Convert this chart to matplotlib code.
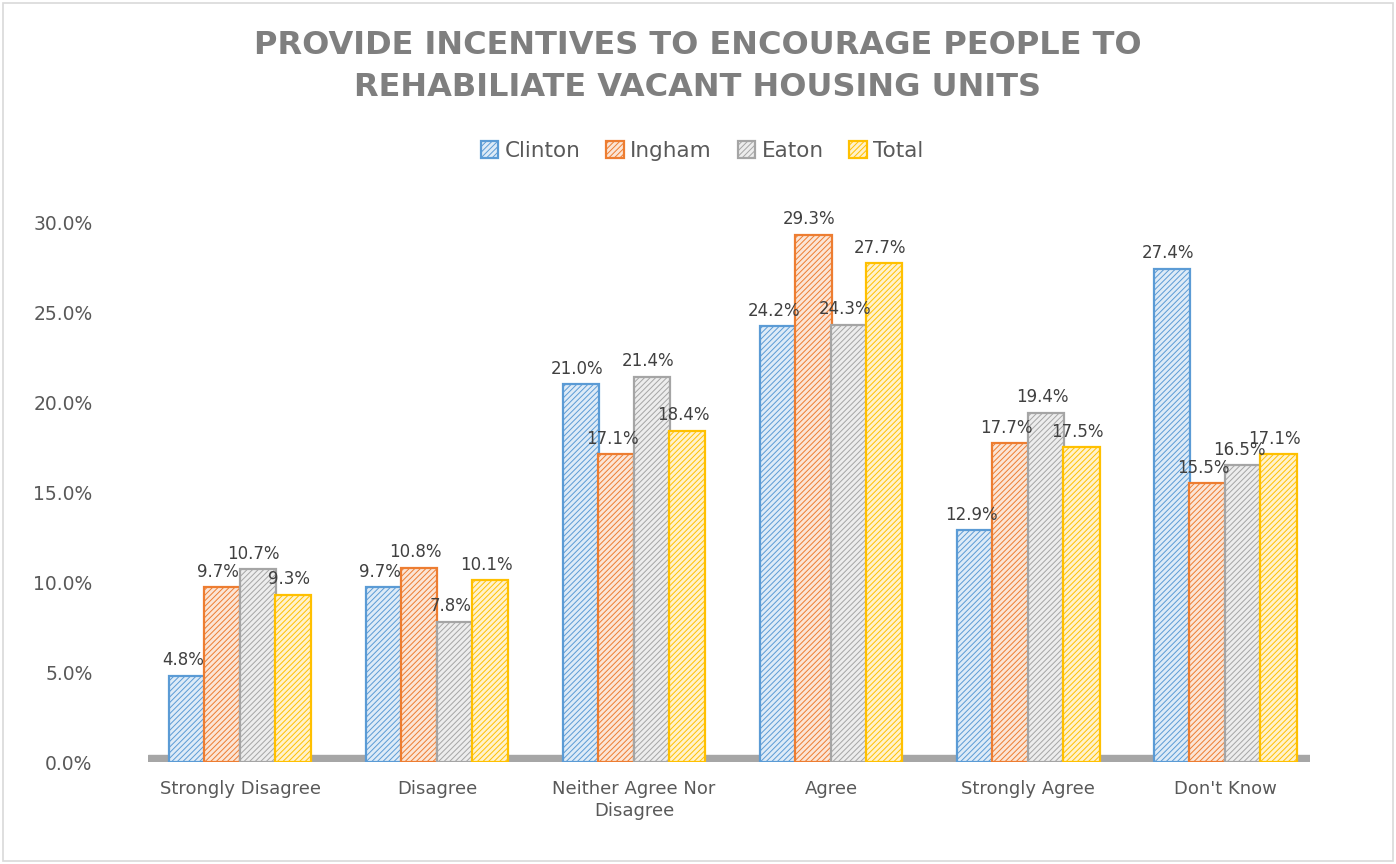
import matplotlib.pyplot as plt
import numpy as np
from matplotlib.patches import Rectangle

categories = ['Strongly Disagree', 'Disagree', 'Neither Agree Nor\nDisagree',
              'Agree', 'Strongly Agree', "Don't Know"]
series_names = ['Clinton', 'Ingham', 'Eaton', 'Total']
clinton = [4.8, 9.7, 21.0, 24.2, 12.9, 27.4]
ingham = [9.7, 10.8, 17.1, 29.3, 17.7, 15.5]
eaton = [10.7, 7.8, 21.4, 24.3, 19.4, 16.5]
total = [9.3, 10.1, 18.4, 27.7, 17.5, 17.1]
y_ticks = [0, 5, 10, 15, 20, 25, 30]

edge_colors = ['#5b9bd5', '#ed7d31', '#a5a5a5', '#ffc000']
face_colors = ['#deebf7', '#fbe5d6', '#ededed', '#fff2cc']

plt.rcParams['hatch.linewidth'] = 0.7
text_gray = '#595959'

fig = plt.figure(figsize=(13.96, 8.64), dpi=100)
ax = fig.add_axes([148 / 1396, 102 / 864, 1162 / 1396, 576 / 864])

x = np.arange(len(categories))
width = 0.18
all_series = [clinton, ingham, eaton, total]
for i, (name, vals) in enumerate(zip(series_names, all_series)):
    pos = x + (i - 1.5) * width
    ax.bar(pos, vals, width * 1.02, label=name, facecolor=face_colors[i],
           edgecolor=edge_colors[i], hatch='//////', linewidth=1.6, zorder=3)
    for px, v in zip(pos, vals):
        ax.text(px - 0.02, v + 0.35, '{:.1f}%'.format(v), ha='center', va='bottom',
                fontsize=12, color='#404040', zorder=5)

# floor of the 3d-style chart
ax.axhspan(-0.05, 0.4, color='#a6a6a6', zorder=2)

ax.set_xlim(-0.467, 5.43)
ax.set_ylim(0, 32)
ax.set_yticks(y_ticks)
ax.set_yticklabels(['{:.1f}%'.format(t) for t in y_ticks], fontsize=13.5, color=text_gray)
ax.set_xticks(x)
ax.set_xticklabels(categories, fontsize=13, color=text_gray, va='top', linespacing=1.3)
ax.tick_params(axis='y', length=0, pad=40)
ax.tick_params(axis='x', length=0, pad=13)
for s in ax.spines.values():
    s.set_visible(False)

fig.text(0.5, 1 - 45 / 864, 'PROVIDE INCENTIVES TO ENCOURAGE PEOPLE TO', ha='center',
         va='center', fontsize=23, fontweight='bold', color='#7f7f7f')
fig.text(0.5, 1 - 88 / 864, 'REHABILIATE VACANT HOUSING UNITS', ha='center',
         va='center', fontsize=23, fontweight='bold', color='#7f7f7f')

leg = fig.legend(loc='center', bbox_to_anchor=(0.503, 1 - 151 / 864), ncol=4, frameon=False,
                 fontsize=15.5, handlelength=0.8, handleheight=0.8, handletextpad=0.3,
                 columnspacing=1.2)
for t in leg.get_texts():
    t.set_color(text_gray)

fig.patches.append(Rectangle((3 / 1396, 3 / 864), 1390 / 1396, 858 / 864, transform=fig.transFigure,
                             fill=False, edgecolor='#d9d9d9', linewidth=1.2))

fig.savefig('out.png', dpi=100, facecolor='w')
